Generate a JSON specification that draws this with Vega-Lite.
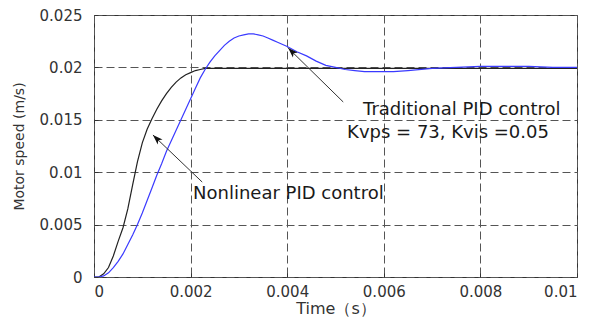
{
  "$schema": "https://vega.github.io/schema/vega-lite/v6.json",
  "width": 483,
  "height": 262,
  "autosize": {"type": "none"},
  "padding": {"left": 94, "top": 15, "right": 16, "bottom": 44},
  "background": "white",
  "config": {
    "font": "DejaVu Sans",
    "view": {"stroke": "#333333", "strokeWidth": 1},
    "axis": {
      "grid": true,
      "gridDash": [8, 4],
      "gridColor": "#555555",
      "gridOpacity": 1,
      "gridWidth": 1,
      "domain": false,
      "ticks": true,
      "tickSize": -4,
      "tickColor": "#333333",
      "labelFont": "DejaVu Sans",
      "labelFontSize": 15,
      "labelColor": "#333333",
      "titleFont": "DejaVu Sans",
      "titleFontWeight": "normal",
      "titleColor": "#333333"
    }
  },
  "datasets": {
    "curves": [
      {"t": 0, "v": 0, "series": "Nonlinear PID control"},
      {"t": 0.0001, "v": 0, "series": "Nonlinear PID control"},
      {"t": 0.0002, "v": 0.0003, "series": "Nonlinear PID control"},
      {"t": 0.0003, "v": 0.0009, "series": "Nonlinear PID control"},
      {"t": 0.0004, "v": 0.0020, "series": "Nonlinear PID control"},
      {"t": 0.0005, "v": 0.0034, "series": "Nonlinear PID control"},
      {"t": 0.0006, "v": 0.0047, "series": "Nonlinear PID control"},
      {"t": 0.0007, "v": 0.0065, "series": "Nonlinear PID control"},
      {"t": 0.0008, "v": 0.0088, "series": "Nonlinear PID control"},
      {"t": 0.0009, "v": 0.0110, "series": "Nonlinear PID control"},
      {"t": 0.0010, "v": 0.0128, "series": "Nonlinear PID control"},
      {"t": 0.0011, "v": 0.0141, "series": "Nonlinear PID control"},
      {"t": 0.0012, "v": 0.0151, "series": "Nonlinear PID control"},
      {"t": 0.0013, "v": 0.0160, "series": "Nonlinear PID control"},
      {"t": 0.0014, "v": 0.0168, "series": "Nonlinear PID control"},
      {"t": 0.0015, "v": 0.0175, "series": "Nonlinear PID control"},
      {"t": 0.0016, "v": 0.0181, "series": "Nonlinear PID control"},
      {"t": 0.0017, "v": 0.0186, "series": "Nonlinear PID control"},
      {"t": 0.0018, "v": 0.0190, "series": "Nonlinear PID control"},
      {"t": 0.0019, "v": 0.0193, "series": "Nonlinear PID control"},
      {"t": 0.0020, "v": 0.0195, "series": "Nonlinear PID control"},
      {"t": 0.0021, "v": 0.0197, "series": "Nonlinear PID control"},
      {"t": 0.0022, "v": 0.0198, "series": "Nonlinear PID control"},
      {"t": 0.0023, "v": 0.0199, "series": "Nonlinear PID control"},
      {"t": 0.0025, "v": 0.0199, "series": "Nonlinear PID control"},
      {"t": 0.0030, "v": 0.0199, "series": "Nonlinear PID control"},
      {"t": 0.0040, "v": 0.0199, "series": "Nonlinear PID control"},
      {"t": 0.0060, "v": 0.0199, "series": "Nonlinear PID control"},
      {"t": 0.0080, "v": 0.0199, "series": "Nonlinear PID control"},
      {"t": 0.0100, "v": 0.0199, "series": "Nonlinear PID control"},
      {"t": 0, "v": 0, "series": "Traditional PID control"},
      {"t": 0.0001, "v": 0, "series": "Traditional PID control"},
      {"t": 0.0002, "v": 0.0001, "series": "Traditional PID control"},
      {"t": 0.0003, "v": 0.0004, "series": "Traditional PID control"},
      {"t": 0.0004, "v": 0.0009, "series": "Traditional PID control"},
      {"t": 0.0005, "v": 0.0015, "series": "Traditional PID control"},
      {"t": 0.0006, "v": 0.0022, "series": "Traditional PID control"},
      {"t": 0.0007, "v": 0.0031, "series": "Traditional PID control"},
      {"t": 0.0008, "v": 0.0040, "series": "Traditional PID control"},
      {"t": 0.0009, "v": 0.0050, "series": "Traditional PID control"},
      {"t": 0.0010, "v": 0.0061, "series": "Traditional PID control"},
      {"t": 0.0011, "v": 0.0073, "series": "Traditional PID control"},
      {"t": 0.0012, "v": 0.0085, "series": "Traditional PID control"},
      {"t": 0.0013, "v": 0.0097, "series": "Traditional PID control"},
      {"t": 0.0014, "v": 0.0108, "series": "Traditional PID control"},
      {"t": 0.0015, "v": 0.0120, "series": "Traditional PID control"},
      {"t": 0.0016, "v": 0.0130, "series": "Traditional PID control"},
      {"t": 0.0017, "v": 0.0140, "series": "Traditional PID control"},
      {"t": 0.0018, "v": 0.0150, "series": "Traditional PID control"},
      {"t": 0.0019, "v": 0.0160, "series": "Traditional PID control"},
      {"t": 0.0020, "v": 0.0170, "series": "Traditional PID control"},
      {"t": 0.0021, "v": 0.0180, "series": "Traditional PID control"},
      {"t": 0.0022, "v": 0.0190, "series": "Traditional PID control"},
      {"t": 0.0023, "v": 0.0198, "series": "Traditional PID control"},
      {"t": 0.0024, "v": 0.0205, "series": "Traditional PID control"},
      {"t": 0.0025, "v": 0.0211, "series": "Traditional PID control"},
      {"t": 0.0026, "v": 0.0216, "series": "Traditional PID control"},
      {"t": 0.0027, "v": 0.0221, "series": "Traditional PID control"},
      {"t": 0.0028, "v": 0.0225, "series": "Traditional PID control"},
      {"t": 0.0029, "v": 0.0228, "series": "Traditional PID control"},
      {"t": 0.0030, "v": 0.0230, "series": "Traditional PID control"},
      {"t": 0.0031, "v": 0.0231, "series": "Traditional PID control"},
      {"t": 0.0032, "v": 0.0232, "series": "Traditional PID control"},
      {"t": 0.0033, "v": 0.0232, "series": "Traditional PID control"},
      {"t": 0.0034, "v": 0.0231, "series": "Traditional PID control"},
      {"t": 0.0035, "v": 0.0230, "series": "Traditional PID control"},
      {"t": 0.0036, "v": 0.0228, "series": "Traditional PID control"},
      {"t": 0.0037, "v": 0.0226, "series": "Traditional PID control"},
      {"t": 0.0038, "v": 0.0224, "series": "Traditional PID control"},
      {"t": 0.0040, "v": 0.0220, "series": "Traditional PID control"},
      {"t": 0.0042, "v": 0.0215, "series": "Traditional PID control"},
      {"t": 0.0044, "v": 0.0211, "series": "Traditional PID control"},
      {"t": 0.0046, "v": 0.0206, "series": "Traditional PID control"},
      {"t": 0.0048, "v": 0.0202, "series": "Traditional PID control"},
      {"t": 0.0050, "v": 0.0200, "series": "Traditional PID control"},
      {"t": 0.0052, "v": 0.0198, "series": "Traditional PID control"},
      {"t": 0.0054, "v": 0.0197, "series": "Traditional PID control"},
      {"t": 0.0056, "v": 0.0196, "series": "Traditional PID control"},
      {"t": 0.0058, "v": 0.0196, "series": "Traditional PID control"},
      {"t": 0.0060, "v": 0.0196, "series": "Traditional PID control"},
      {"t": 0.0062, "v": 0.0196, "series": "Traditional PID control"},
      {"t": 0.0065, "v": 0.0197, "series": "Traditional PID control"},
      {"t": 0.0070, "v": 0.0199, "series": "Traditional PID control"},
      {"t": 0.0075, "v": 0.0200, "series": "Traditional PID control"},
      {"t": 0.0080, "v": 0.0201, "series": "Traditional PID control"},
      {"t": 0.0085, "v": 0.0201, "series": "Traditional PID control"},
      {"t": 0.0090, "v": 0.0201, "series": "Traditional PID control"},
      {"t": 0.0095, "v": 0.0200, "series": "Traditional PID control"},
      {"t": 0.0100, "v": 0.0200, "series": "Traditional PID control"}
    ],
    "arrows": [
      {"t": 0.00516, "v": 0.0167, "t2": 0.00402, "v2": 0.02185},
      {"t": 0.00224, "v": 0.00906, "t2": 0.00122, "v2": 0.01355}
    ],
    "labels": [
      {"t": 0.00557, "v": 0.01546, "label": "Traditional PID control"},
      {"t": 0.00524, "v": 0.01326, "label": "Kvps = 73, Kvis =0.05"},
      {"t": 0.00205, "v": 0.00744, "label": "Nonlinear PID control"}
    ]
  },
  "layer": [
    {
      "data": {"name": "curves"},
      "mark": {"type": "line", "strokeWidth": 1.2, "clip": true},
      "encoding": {
        "x": {
          "field": "t", "type": "quantitative",
          "scale": {"domain": [0, 0.01], "nice": false},
          "axis": {"values": [0, 0.002, 0.004, 0.006, 0.008, 0.01], "format": "~g", "labelPadding": 11, "title": "Time（s）", "titleFontSize": 16, "titlePadding": 1}
        },
        "y": {
          "field": "v", "type": "quantitative",
          "scale": {"domain": [0, 0.025], "nice": false},
          "axis": {"values": [0, 0.005, 0.01, 0.015, 0.02, 0.025], "format": "~g", "labelPadding": 16, "title": "Motor speed (m/s)", "titleFontSize": 14, "titlePadding": 13}
        },
        "color": {
          "field": "series", "type": "nominal",
          "scale": {"domain": ["Nonlinear PID control", "Traditional PID control"], "range": ["#222222", "#3a3aff"]},
          "legend": null
        }
      }
    },
    {
      "data": {"name": "arrows"},
      "mark": {"type": "rule", "color": "#333333", "strokeWidth": 1},
      "encoding": {
        "x": {"field": "t", "type": "quantitative"},
        "y": {"field": "v", "type": "quantitative"},
        "x2": {"field": "t2"},
        "y2": {"field": "v2"}
      }
    },
    {
      "data": {"name": "arrows"},
      "mark": {"type": "point", "shape": "M0,0L0.7,2L0,1.5L-0.7,2Z", "filled": true, "color": "#111111", "opacity": 1, "size": 100, "angle": -46},
      "encoding": {
        "x": {"field": "t2", "type": "quantitative"},
        "y": {"field": "v2", "type": "quantitative"}
      }
    },
    {
      "data": {"name": "labels"},
      "mark": {"type": "text", "align": "left", "baseline": "alphabetic", "font": "DejaVu Sans", "fontSize": 18, "color": "#1a1a1a"},
      "encoding": {
        "x": {"field": "t", "type": "quantitative"},
        "y": {"field": "v", "type": "quantitative"},
        "text": {"field": "label"}
      }
    }
  ]
}
